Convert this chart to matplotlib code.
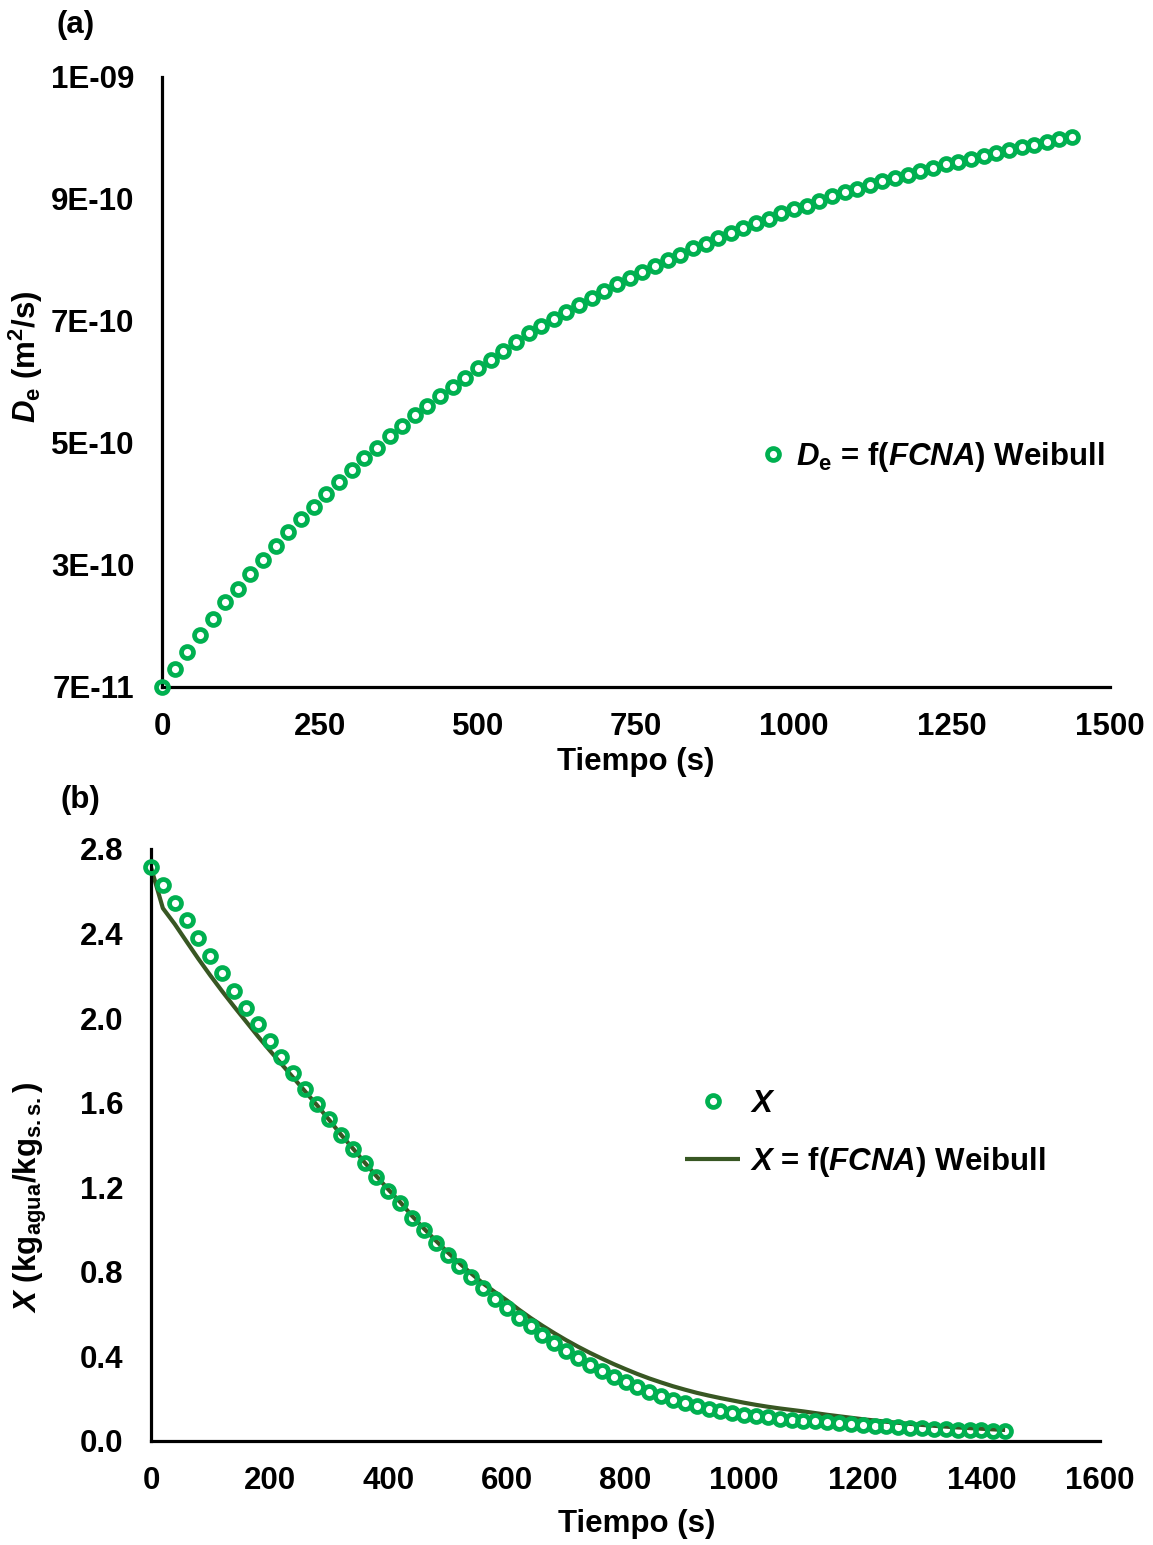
import numpy as np
import matplotlib
matplotlib.use("Agg")
import matplotlib.pyplot as plt

plt.rcParams['font.family'] = ['Liberation Sans', 'DejaVu Sans']
plt.rcParams['font.weight'] = 'bold'
plt.rcParams['mathtext.fontset'] = 'custom'
plt.rcParams['mathtext.rm'] = 'Liberation Sans:bold'
plt.rcParams['mathtext.it'] = 'Liberation Sans:italic:bold'
plt.rcParams['mathtext.bf'] = 'Liberation Sans:bold'

# ---------------- data ----------------
time_s = [0, 20, 40, 60, 80, 100, 120, 140, 160, 180, 200, 220, 240, 260, 280, 300,
          320, 340, 360, 380, 400, 420, 440, 460, 480, 500, 520, 540, 560, 580, 600,
          620, 640, 660, 680, 700, 720, 740, 760, 780, 800, 820, 840, 860, 880, 900,
          920, 940, 960, 980, 1000, 1020, 1040, 1060, 1080, 1100, 1120, 1140, 1160,
          1180, 1200, 1220, 1240, 1260, 1280, 1300, 1320, 1340, 1360, 1380, 1400,
          1420, 1440]

# De in units of 1e-10 m2/s
de_e10 = [0.70, 0.98, 1.24, 1.49, 1.74, 1.99, 2.20, 2.42, 2.64, 2.85, 3.06, 3.26,
          3.45, 3.65, 3.83, 4.01, 4.19, 4.35, 4.53, 4.68, 4.84, 4.99, 5.13, 5.28,
          5.41, 5.56, 5.69, 5.83, 5.96, 6.09, 6.20, 6.31, 6.41, 6.52, 6.63, 6.73,
          6.84, 6.93, 7.02, 7.12, 7.21, 7.29, 7.39, 7.46, 7.55, 7.62, 7.70, 7.77,
          7.84, 7.92, 7.98, 8.04, 8.11, 8.18, 8.24, 8.30, 8.35, 8.41, 8.46, 8.51,
          8.57, 8.62, 8.67, 8.71, 8.75, 8.80, 8.84, 8.89, 8.93, 8.97, 9.01, 9.05,
          9.09]

x_exp = [2.713, 2.629, 2.544, 2.463, 2.378, 2.294, 2.212, 2.130, 2.048, 1.971,
         1.892, 1.814, 1.742, 1.667, 1.592, 1.521, 1.448, 1.383, 1.315, 1.249,
         1.184, 1.126, 1.056, 0.996, 0.937, 0.881, 0.826, 0.774, 0.722, 0.673,
         0.629, 0.584, 0.543, 0.502, 0.463, 0.426, 0.392, 0.360, 0.332, 0.302,
         0.278, 0.257, 0.234, 0.215, 0.196, 0.180, 0.166, 0.152, 0.143, 0.134,
         0.125, 0.118, 0.112, 0.106, 0.101, 0.096, 0.093, 0.089, 0.084, 0.081,
         0.076, 0.072, 0.070, 0.066, 0.063, 0.060, 0.058, 0.055, 0.054, 0.052,
         0.051, 0.049, 0.047]

x_model = [2.713, 2.520, 2.445, 2.362, 2.280, 2.202, 2.127, 2.055, 1.985, 1.915,
           1.848, 1.783, 1.718, 1.653, 1.588, 1.520, 1.450, 1.385, 1.318, 1.253,
           1.190, 1.130, 1.065, 1.005, 0.948, 0.893, 0.841, 0.792, 0.745, 0.704,
           0.665, 0.622, 0.582, 0.545, 0.510, 0.477, 0.446, 0.417, 0.390, 0.364,
           0.340, 0.317, 0.296, 0.277, 0.259, 0.243, 0.228, 0.215, 0.203, 0.192,
           0.181, 0.171, 0.162, 0.154, 0.147, 0.140, 0.132, 0.124, 0.117, 0.110,
           0.103, 0.097, 0.091, 0.086, 0.081, 0.076, 0.072, 0.068, 0.064, 0.061,
           0.058, 0.055, 0.052]

top_ytick_labels = ['7E-11', '3E-10', '5E-10', '7E-10', '9E-10', '1E-09']
top_xticks = [0, 250, 500, 750, 1000, 1250, 1500]
bot_xticks = [0, 200, 400, 600, 800, 1000, 1200, 1400, 1600]
bot_yticks = [0.0, 0.4, 0.8, 1.2, 1.6, 2.0, 2.4, 2.8]

# ---------------- style ----------------
W, H = 1153, 1545
GREEN = '#00B050'
DARK = '#385723'
FS = 22.5

fig = plt.figure(figsize=(W / 100, H / 100), dpi=100)

def frac_box(l, t, r, b):
    return [l / W, 1 - b / H, (r - l) / W, (b - t) / H]

def style_axes(ax):
    for s in ['top', 'right']:
        ax.spines[s].set_visible(False)
    for s in ['left', 'bottom']:
        ax.spines[s].set_linewidth(2.3)
        ax.spines[s].set_color('black')
    ax.tick_params(axis='both', length=0, labelsize=FS)
    ax.tick_params(axis='y', pad=20)
    ax.tick_params(axis='x', pad=18)
    for lab in ax.get_xticklabels() + ax.get_yticklabels():
        lab.set_fontweight('bold')

# ---------- panel (a) ----------
ax1 = fig.add_axes(frac_box(162, 77, 1110, 687))
de = np.array(de_e10) * 1e-10
ax1.plot(time_s, de, linestyle='none', marker='o', markersize=8.6,
         markerfacecolor='none', markeredgecolor=GREEN, markeredgewidth=3.4,
         clip_on=False, zorder=3,
         label=r'$\mathit{D}_\mathrm{e}$ = f($\mathit{FCNA}$) Weibull')
ymin, ymax = 0.7e-10, 1.0e-9
ax1.set_ylim(ymin, ymax)
ax1.set_xlim(0, 1500)
ax1.set_yticks(np.linspace(ymin, ymax, len(top_ytick_labels)))
ax1.set_yticklabels(top_ytick_labels)
ax1.set_xticks(top_xticks)
ax1.set_xticklabels([str(v) for v in top_xticks])
style_axes(ax1)

fig.legend(handles=ax1.get_lines(), loc='center left',
           bbox_to_anchor=(760 / W, 1 - 457 / H), frameon=False, fontsize=FS,
           handlelength=0.83, handletextpad=0.32, borderpad=0, borderaxespad=0,
           numpoints=1)

fig.text(636 / W, 1 - 762 / H, 'Tiempo (s)', ha='center', va='center',
         fontsize=FS, fontweight='bold')
fig.text(26 / W, 1 - 357 / H, r'$\mathit{D}_\mathrm{e}$ (m$^\mathrm{2}$/s)',
         ha='center', va='center', rotation=90, fontsize=FS, fontweight='bold')
fig.text(76 / W, 1 - 25 / H, '(a)', ha='center', va='center',
         fontsize=FS, fontweight='bold')

# ---------- panel (b) ----------
ax2 = fig.add_axes(frac_box(151, 849, 1100, 1441))
ax2.plot(time_s, x_model, color=DARK, linewidth=3.0, zorder=2,
         solid_capstyle='butt', solid_joinstyle='round',
         label=r'$\mathit{X}$ = f($\mathit{FCNA}$) Weibull')
ax2.plot(time_s, x_exp, linestyle='none', marker='o', markersize=8.6,
         markerfacecolor='none', markeredgecolor=GREEN, markeredgewidth=3.4,
         clip_on=False, zorder=3, label=r'$\mathit{X}$')
ax2.set_xlim(0, 1600)
ax2.set_ylim(0, 2.8)
ax2.set_xticks(bot_xticks)
ax2.set_xticklabels([str(v) for v in bot_xticks])
ax2.set_yticks(bot_yticks)
ax2.set_yticklabels([f'{v:.1f}' for v in bot_yticks])
style_axes(ax2)

h_line, h_pts = ax2.get_lines()
fig.legend(handles=[h_pts, h_line], loc='center left',
           bbox_to_anchor=(685 / W, 1 - 1134 / H), frameon=False, fontsize=FS,
           handlelength=1.76, handletextpad=0.32, borderpad=0, borderaxespad=0,
           labelspacing=0.85, numpoints=1)

fig.text(637 / W, 1 - 1524 / H, 'Tiempo (s)', ha='center', va='center',
         fontsize=FS, fontweight='bold')
fig.text(30 / W, 1 - 1197 / H,
         r'$\mathit{X}$ (kg$_\mathrm{agua}$/kg$_\mathrm{s.s.}$)',
         ha='center', va='center', rotation=90, fontsize=FS, fontweight='bold')
fig.text(80 / W, 1 - 800 / H, '(b)', ha='center', va='center',
         fontsize=FS, fontweight='bold')

fig.savefig('out.png', dpi=100)
